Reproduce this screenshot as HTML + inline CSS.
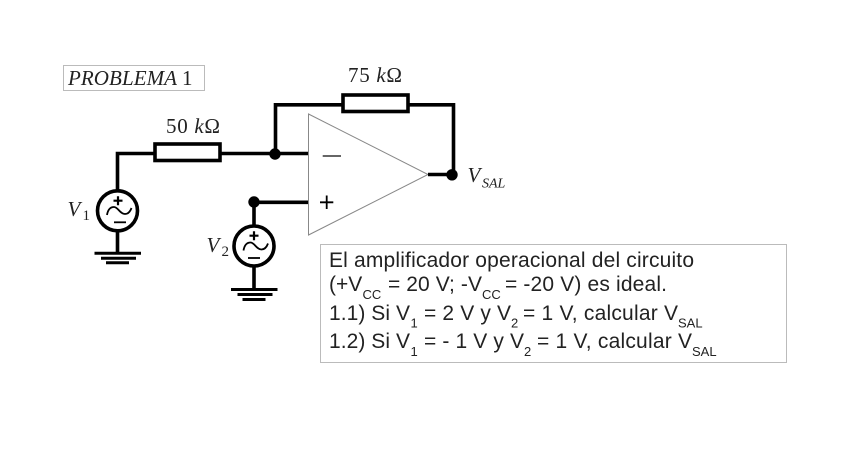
<!DOCTYPE html>
<html><head><meta charset="utf-8"><style>
html,body{margin:0;padding:0;background:#fff;width:848px;height:476px;overflow:hidden}
svg{display:block}
.s{font-family:"Liberation Serif",serif;fill:#222}
.a{font-family:"Liberation Sans",sans-serif;fill:#222;font-size:21px}
.u{font-size:13px}
</style></head><body>
<svg width="848" height="476" viewBox="0 0 848 476" xmlns="http://www.w3.org/2000/svg">
<rect width="848" height="476" fill="#fff"/>
<rect x="63.5" y="65.5" width="141" height="25" fill="none" stroke="#bbb" stroke-width="1"/>
<rect x="320.5" y="244.5" width="466" height="118" fill="none" stroke="#bbb" stroke-width="1"/>
<polygon points="308.5,114 428,174.500 308.500,235" fill="#fff" stroke="#888" stroke-width="1"/>
<g fill="none" stroke="#000" stroke-width="3.600">
<path d="M117.500 191V153.500H155M220 153.500H308"/>
<path d="M275.500 154V104.800H343M408 104.800H453.500V174.500M428 174.500H452"/>
<path d="M308 202.300H254V226"/>
<rect x="155" y="144" width="65" height="16.500"/>
<rect x="343" y="95" width="65" height="16.500"/>
<circle cx="117.500" cy="210.800" r="20"/>
<circle cx="254" cy="246" r="20"/>
<path d="M117.500 231V253"/>
<path d="M254 266V288"/>
</g>
<g fill="none" stroke="#000" stroke-width="3">
<path d="M94.500 253.300H141M101 258.300H136M106 262.800H129"/>
<path d="M231 289.500H277.500M237.500 294.500H272.500M242.500 299.500H265.500"/>
</g>
<g fill="none" stroke="#000" stroke-width="1.800">
<path d="M107 215C108 209 111 207 114 207C118 207 120 214 125 214C128 214 130 212 131.500 208"/>
<path d="M243.500 250.500C244.500 244.500 247.500 242.500 250.500 242.500C254.500 242.500 256.500 249.500 261.500 249.500C264.500 249.500 266.500 247.500 268 243.500"/>
<path d="M114 222.300H126"/>
<path d="M248 258H260"/>
<path d="M322.700 156H341" stroke-width="1.500" stroke="#333"/>
<path d="M320 202.300H333.300M326.700 195.500V209"/>
</g>
<g fill="none" stroke="#000" stroke-width="2.200">
<path d="M113.500 200.700H122.500M118 196.200V205.200"/>
<path d="M249.500 235.700H258.500M254 231.200V240.200"/>
</g>
<circle cx="275" cy="154" r="5.700"/>
<circle cx="254" cy="202" r="5.700"/>
<circle cx="452" cy="174.800" r="5.700"/>
<text class="s" x="68" y="85" font-size="21" font-style="italic" textLength="109">PROBLEMA</text>
<text class="s" x="182" y="85" font-size="21">1</text>
<text class="s" x="166" y="133" font-size="21" textLength="54">50 <tspan font-style="italic">k</tspan>Ω</text>
<text class="s" x="348" y="82" font-size="21" textLength="54">75 <tspan font-style="italic">k</tspan>Ω</text>
<text class="s" x="67.500" y="216" font-size="21" font-style="italic">V</text>
<text class="s" x="82.500" y="220" font-size="15">1</text>
<text class="s" x="206.500" y="252" font-size="21" font-style="italic">V</text>
<text class="s" x="221.500" y="256" font-size="15">2</text>
<text class="s" x="467.500" y="182" font-size="21" font-style="italic">V</text>
<text class="s" x="482" y="187.500" font-size="14" font-style="italic">SAL</text>
<text class="a" x="329" y="267" textLength="365">El amplificador operacional del circuito</text>
<text class="a" x="329" y="291">(+V</text><text class="a u" x="362.500" y="299">CC</text>
<text class="a" x="388" y="291" textLength="94">= 20 V; -V</text><text class="a u" x="482" y="299">CC</text>
<text class="a" x="505" y="291" textLength="162">= -20 V) es ideal.</text>
<text class="a" x="329" y="320" textLength="81">1.1) Si V</text><text class="a u" x="410.500" y="327.500">1</text>
<text class="a" x="424" y="320" textLength="87">= 2 V y V</text><text class="a u" x="511" y="327.500">2</text>
<text class="a" x="523" y="320" textLength="155">= 1 V, calcular V</text><text class="a u" x="678" y="327.500">SAL</text>
<text class="a" x="329" y="348" textLength="81">1.2) Si V</text><text class="a u" x="410.500" y="356">1</text>
<text class="a" x="424" y="348" textLength="100">= - 1 V y V</text><text class="a u" x="524" y="356">2</text>
<text class="a" x="537" y="348" textLength="155">= 1 V, calcular V</text><text class="a u" x="692" y="356">SAL</text>
</svg>
</body></html>
